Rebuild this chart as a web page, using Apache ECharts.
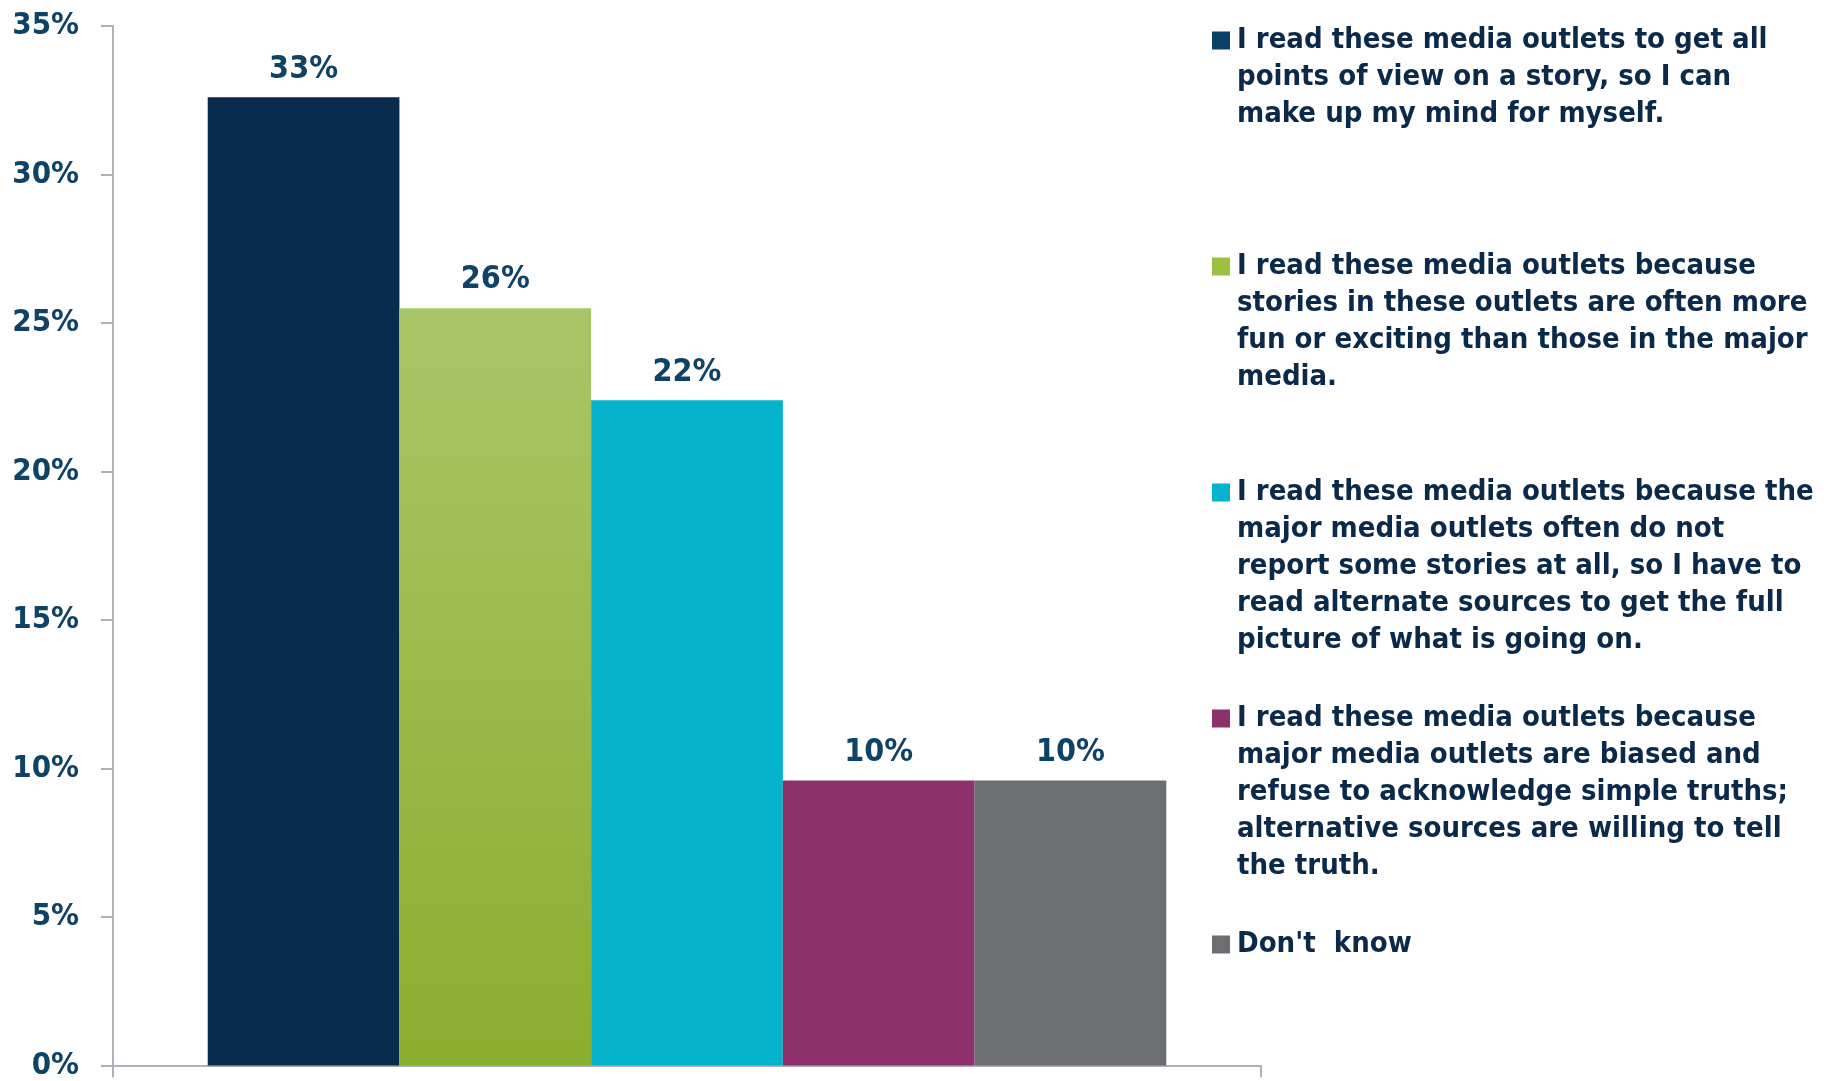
<!DOCTYPE html>
<html>
<head>
    <meta charset="utf-8">
    <title>Why read these media outlets</title>
    <script src="https://cdn.jsdelivr.net/npm/echarts@6/dist/echarts.min.js"></script>
    <style type="text/css">
        * {
            margin: 0;
            padding: 0;
        }

        #main {
            width: 1826px;
            height: 1081px;
            background: #fff;
        }
    </style>
</head>
<body>
<div id="main"></div>

<script type="text/javascript">
    // data
    var categories = [''];
    var seriesNames = [
        'I read these media outlets to get all points of view on a story, so I can make up my mind for myself.',
        'I read these media outlets because stories in these outlets are often more fun or exciting than those in the major media.',
        'I read these media outlets because the major media outlets often do not report some stories at all, so I have to read alternate sources to get the full picture of what is going on.',
        'I read these media outlets because major media outlets are biased and refuse to acknowledge simple truths; alternative sources are willing to tell the truth.',
        "Don't  know"
    ];
    var values = [32.6, 25.5, 22.4, 9.6, 9.6];
    // how each legend entry wraps in the original
    var legendLines = [
        ['I read these media outlets to get all', 'points of view on a story, so I can', 'make up my mind for myself.'],
        ['I read these media outlets because', 'stories in these outlets are often more', 'fun or exciting than those in the major', 'media.'],
        ['I read these media outlets because the', 'major media outlets often do not', 'report some stories at all, so I have to', 'read alternate sources to get the full', 'picture of what is going on.'],
        ['I read these media outlets because', 'major media outlets are biased and', 'refuse to acknowledge simple truths;', 'alternative sources are willing to tell', 'the truth.'],
        ["Don't  know"]
    ];
    var yMin = 0, yMax = 35, yStep = 5;

    var colors = [
        '#082b4e',
        new echarts.graphic.LinearGradient(0, 0, 0, 1, [
            {offset: 0, color: '#a9c667'},
            {offset: 1, color: '#8aae2e'}
        ]),
        '#06b3cc',
        '#8e306c',
        '#6d6e71'
    ];
    var swatch = ['#0a3f66', '#9cc040', '#06b3cc', '#8e306c', '#6d6e71'];

    var fontFamily = '"DejaVu Sans Condensed", "DejaVu Sans", sans-serif';
    var lineH = 37;
    var sq = 18;
    var iconW = sq + 2;

    // square sitting next to the first line of a block of n lines
    function iconFor(n) {
        var h = n * lineH;
        var t = (lineH - sq) / 2;
        return 'path://M0,0L0.01,0M0,' + t + 'L' + sq + ',' + t + 'L' + sq + ',' + (t + sq) +
            'L0,' + (t + sq) + 'ZM' + (iconW - 0.01) + ',' + h + 'L' + iconW + ',' + h;
    }

    var myChart = echarts.init(document.getElementById('main'));

    var legends = [];
    var series = [];
    for (var i = 0; i < seriesNames.length; i++) {
        var n = legendLines[i].length;
        legends.push({
            data: [{name: seriesNames[i], itemStyle: {color: swatch[i]}}],
            left: 1212,
            top: 22 + i * 226,
            padding: 0,
            icon: iconFor(n),
            itemWidth: iconW,
            itemHeight: n * lineH,
            selectedMode: false,
            formatter: (function (lines) {
                return function () { return lines.join('\n'); };
            })(legendLines[i]),
            textStyle: {
                fontFamily: fontFamily,
                fontWeight: 'bold',
                fontSize: 29,
                lineHeight: lineH,
                color: '#0b2a4a'
            }
        });
        series.push({
            name: seriesNames[i],
            type: 'bar',
            data: [values[i]],
            barGap: 0,
            barCategoryGap: '16.5%',
            itemStyle: {color: colors[i]},
            label: {
                show: true,
                position: 'top',
                distance: 12,
                formatter: function (p) { return Math.round(p.value) + '%'; },
                fontFamily: fontFamily,
                fontWeight: 'bold',
                fontSize: 32,
                color: '#0e4266'
            }
        });
    }

    var option = {
        animation: false,
        grid: {left: 113, right: 565, top: 26, bottom: 12},
        legend: legends,
        xAxis: {
            type: 'category',
            data: categories,
            axisLine: {lineStyle: {color: '#aeb1b9', width: 2}},
            axisTick: {show: true, length: 12, lineStyle: {color: '#aeb1b9', width: 2}},
            axisLabel: {show: false}
        },
        yAxis: {
            type: 'value',
            min: yMin,
            max: yMax,
            interval: yStep,
            splitLine: {show: false},
            axisLine: {show: true, lineStyle: {color: '#aeb1b9', width: 2}},
            axisTick: {show: true, length: 12, lineStyle: {color: '#aeb1b9', width: 2}},
            axisLabel: {
                margin: 34,
                formatter: '{value}%',
                fontFamily: fontFamily,
                fontWeight: 'bold',
                fontSize: 31,
                color: '#0e4266'
            }
        },
        series: series
    };

    myChart.setOption(option);
</script>
</body>
</html>
